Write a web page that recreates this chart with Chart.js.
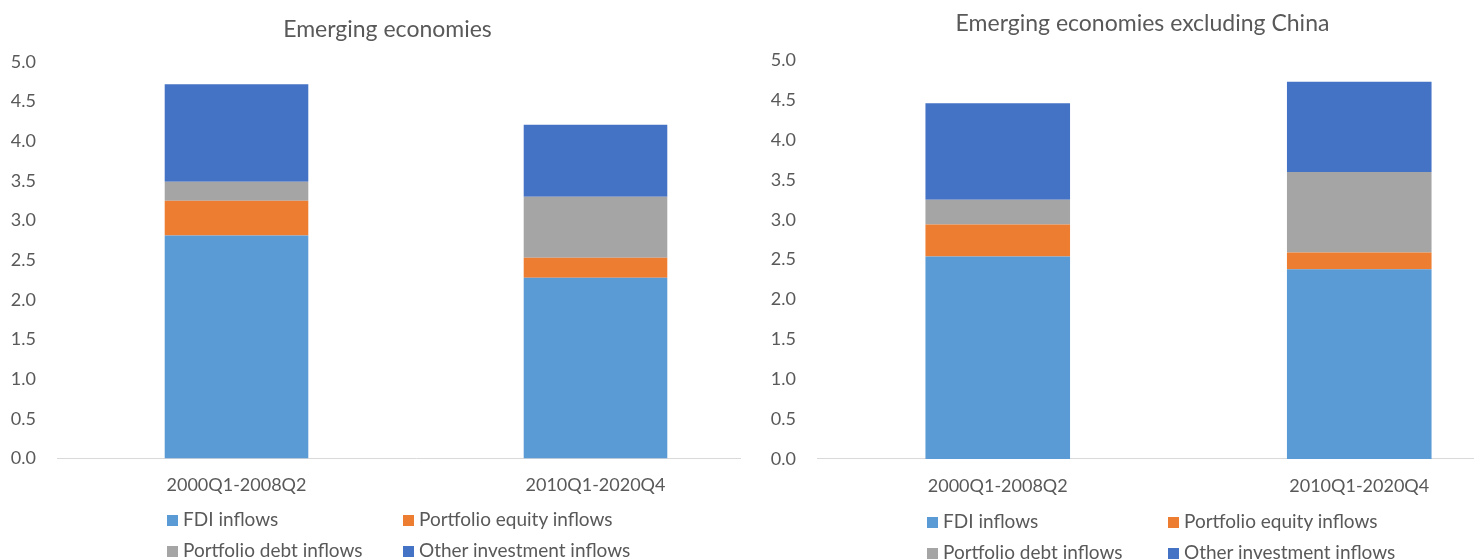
<!DOCTYPE html>
<html>
<head>
<meta charset="utf-8">
<script src="https://cdn.jsdelivr.net/npm/chart.js@4.4.1/dist/chart.umd.min.js"></script>
<style>
  html, body { margin: 0; padding: 0; background: #fff; overflow: hidden; }
  #wrap { position: relative; width: 1474px; height: 560px; overflow: hidden; font-family: Lato, sans-serif; }
  .box { position: absolute; top: 0; height: 560px; background: #fff; }
  #leftBox { left: 0; width: 790px; }
  #rightBox { left: 741px; width: 814px; }
  .leg { position: absolute; font-size: 19px; color: #595959; white-space: nowrap; line-height: 22px; }
  .leg span.sw { display: inline-block; width: 11px; height: 11px; margin-right: 5px; vertical-align: 0px; }
</style>
</head>
<body>
<div id="wrap">
  <div class="box" id="leftBox"><canvas id="chartEM" width="790" height="560"></canvas></div>
  <div class="box" id="rightBox"><canvas id="chartXC" width="814" height="560"></canvas></div>
</div>
<script>
// categories and series
const categories = ['2000Q1-2008Q2', '2010Q1-2020Q4'];
const seriesNames = ['FDI inflows', 'Portfolio equity inflows', 'Portfolio debt inflows', 'Other investment inflows'];
const seriesColors = ['#5B9BD5', '#ED7D31', '#A5A5A5', '#4472C4'];

// Emerging economies
const fdiEM = [2.81, 2.28];
const equityEM = [0.44, 0.25];
const debtEM = [0.24, 0.77];
const otherEM = [1.23, 0.91];

// Emerging economies excluding China
const fdiXC = [2.54, 2.38];
const equityXC = [0.40, 0.21];
const debtXC = [0.31, 1.01];
const otherXC = [1.21, 1.13];

const yMax = 5;
const yStep = 0.5;

const textColor = '#595959';
Chart.defaults.font.family = 'Lato, sans-serif';
Chart.defaults.color = textColor;

function makeChart(id, title, values, pad) {
  const ctx = document.getElementById(id).getContext('2d');
  return new Chart(ctx, {
    type: 'bar',
    data: {
      labels: categories,
      datasets: values.map((v, i) => ({
        label: seriesNames[i],
        data: v,
        backgroundColor: seriesColors[i],
        borderWidth: 0,
        barPercentage: 0.4,
        categoryPercentage: 1
      }))
    },
    options: {
      responsive: false,
      animation: false,
      layout: { padding: { left: pad.left, right: 15, top: 0, bottom: pad.bottom } },
      plugins: {
        legend: { display: false },
        tooltip: { enabled: false },
        title: {
          display: true,
          text: title,
          color: textColor,
          font: { size: 23, weight: 'normal' },
          padding: { top: pad.titleTop, bottom: pad.titleBottom }
        }
      },
      scales: {
        x: {
          stacked: true,
          grid: { display: false, drawTicks: false },
          border: { display: true, color: '#D9D9D9', width: 1 },
          ticks: { padding: pad.xTick, font: { size: 18 }, color: textColor }
        },
        y: {
          stacked: true,
          min: 0,
          max: yMax,
          grid: { display: false, drawTicks: false },
          border: { display: false },
          ticks: {
            stepSize: yStep,
            padding: 21,
            font: { size: 18 },
            color: textColor,
            callback: v => Number(v).toFixed(1)
          },
          afterFit: s => { s.width = pad.yWidth; }
        }
      }
    }
  });
}

makeChart('chartEM', 'Emerging economies', [fdiEM, equityEM, debtEM, otherEM],
  { left: 0, yWidth: 57, bottom: 48, titleTop: 16, titleBottom: 18.4, xTick: 16 });
makeChart('chartXC', 'Emerging economies excluding China', [fdiXC, equityXC, debtXC, otherXC],
  { left: 4, yWidth: 72, bottom: 47.5, titleTop: 10, titleBottom: 22.7, xTick: 16 });

// legends (two rows of two items)
function addLegend(colX, rowY) {
  const wrap = document.getElementById('wrap');
  seriesNames.forEach((name, i) => {
    const d = document.createElement('div');
    d.className = 'leg';
    d.style.left = colX[i % 2] + 'px';
    d.style.top = (rowY[Math.floor(i / 2)] - 11) + 'px';
    d.innerHTML = '<span class="sw" style="background:' + seriesColors[i] + '"></span>';
    d.appendChild(document.createTextNode(name));
    wrap.appendChild(d);
  });
}
addLegend([167, 403], [519, 550]);
addLegend([927, 1168], [521, 552]);
</script>
</body>
</html>
